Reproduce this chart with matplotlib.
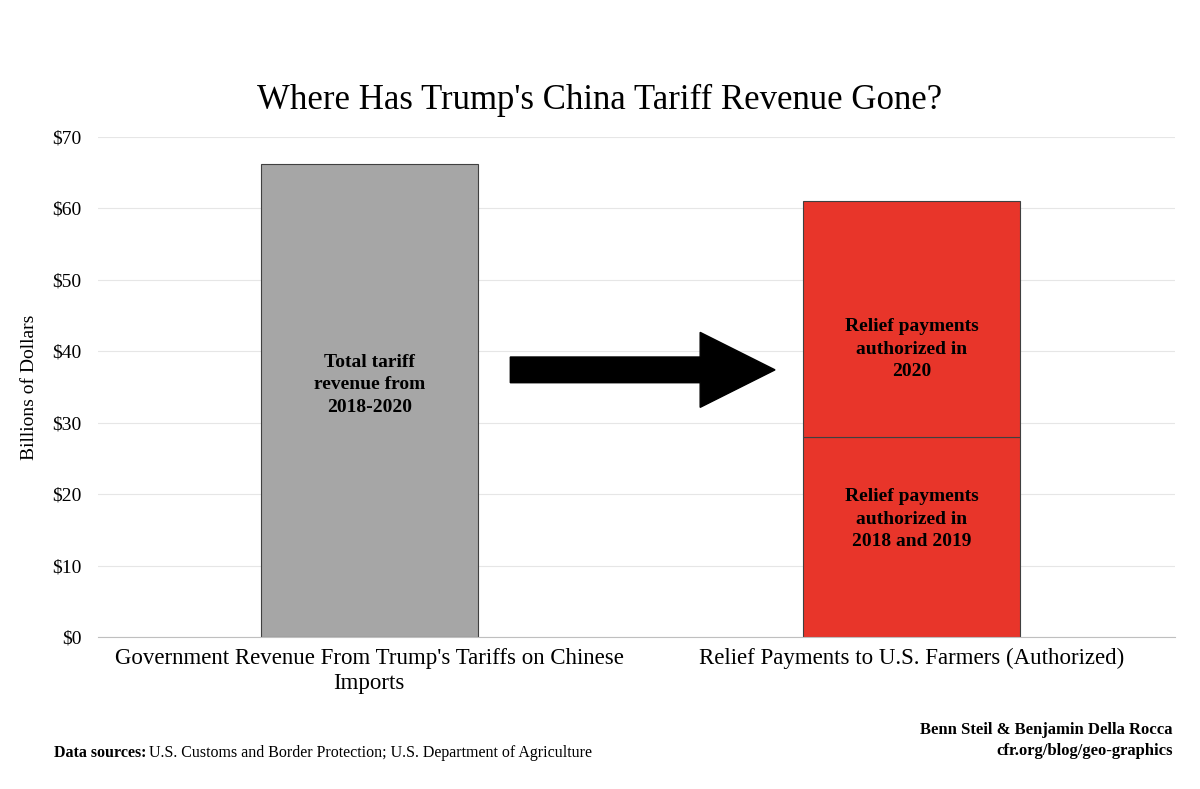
import matplotlib.pyplot as plt
from matplotlib.ticker import FuncFormatter

plt.rcParams['font.family'] = ['Liberation Serif', 'DejaVu Serif']

categories = ["Government Revenue From Trump's Tariffs on Chinese\nImports",
              "Relief Payments to U.S. Farmers (Authorized)"]
tariff_revenue = 66.2
relief_2018_2019 = 28.0
relief_2020 = 33.0

fig = plt.figure(figsize=(12, 7.89), dpi=100)
ax = fig.add_axes([0.0817, 0.1926, 0.8973, 0.6338])

ax.bar(0, tariff_revenue, width=0.4, color='#a6a6a6', edgecolor='#404040', linewidth=0.8)
ax.bar(1, relief_2018_2019, width=0.4, color='#e8352a', edgecolor='#404040', linewidth=0.8)
ax.bar(1, relief_2020, width=0.4, bottom=relief_2018_2019, color='#e8352a',
       edgecolor='#404040', linewidth=0.8)

label_kw = dict(ha='center', va='center', fontsize=14, fontweight='bold', linespacing=1.4)
ax.text(0, 35.3, "Total tariff\nrevenue from\n2018-2020", **label_kw)
ax.text(1, 40.3, "Relief payments\nauthorized in\n2020", **label_kw)
ax.text(1, 16.5, "Relief payments\nauthorized in\n2018 and 2019", **label_kw)

ax.arrow(0.26, 37.4, 0.35, 0, width=3.6, head_width=10.5, head_length=0.138,
         length_includes_head=False, color='black')

ax.set_xlim(-0.5, 1.485)
ax.set_ylim(0, 70)
ax.set_yticks(range(0, 71, 10))
ax.yaxis.set_major_formatter(FuncFormatter(lambda v, p: f"${v:.0f}"))
ax.set_xticks([0, 1])
ax.set_xticklabels(categories, fontsize=16.5, linespacing=1.25)
ax.tick_params(axis='y', labelsize=14, length=0, pad=12)
ax.tick_params(axis='x', length=0, pad=8)
ax.grid(axis='y', color='#e6e6e6', linewidth=0.8)
ax.set_axisbelow(True)
for s in ['top', 'right', 'left']:
    ax.spines[s].set_visible(False)
ax.spines['bottom'].set_color('#bfbfbf')
ax.set_ylabel("Billions of Dollars", fontsize=14, labelpad=10)

fig.text(0.5, 0.873, "Where Has Trump's China Tariff Revenue Gone?", ha='center',
         va='center', fontsize=25)
fig.text(0.045, 0.045, "Data sources:", fontsize=11.5, fontweight='bold', va='center')
fig.text(0.124, 0.045, "U.S. Customs and Border Protection; U.S. Department of Agriculture",
         fontsize=11.5, va='center')
fig.text(0.977, 0.075, "Benn Steil & Benjamin Della Rocca", ha='right', va='center',
         fontsize=12, fontweight='bold')
fig.text(0.977, 0.048, "cfr.org/blog/geo-graphics", ha='right', va='center',
         fontsize=12, fontweight='bold')

fig.savefig('out.png', dpi=100)
